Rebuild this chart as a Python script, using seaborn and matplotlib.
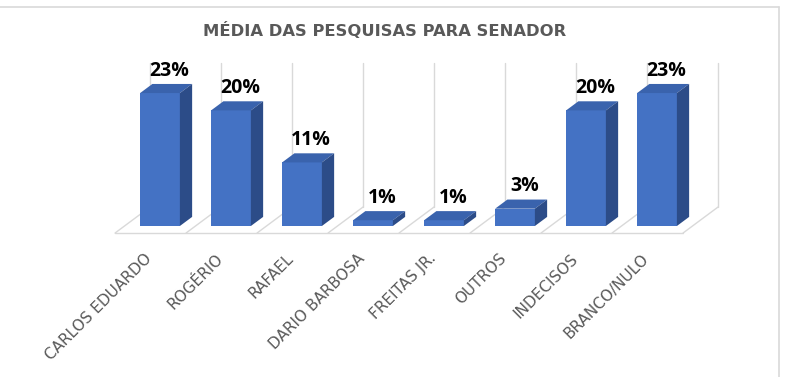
import numpy as np
import matplotlib.pyplot as plt
import seaborn as sns
from matplotlib.patches import Polygon
from matplotlib.lines import Line2D

categories = ['CARLOS EDUARDO', 'ROGÉRIO', 'RAFAEL', 'DARIO BARBOSA',
              'FREITAS JR.', 'OUTROS', 'INDECISOS', 'BRANCO/NULO']
values = [23, 20, 11, 1, 1, 3, 20, 23]
labels = ['23%', '20%', '11%', '1%', '1%', '3%', '20%', '23%']
axis_max = 25

front_c = '#4472C4'
top_c = '#3A63AD'
side_c = '#2C4C88'
grid_c = '#D9D9D9'
text_c = '#595959'

# depth vector (x in category units, y in percent) for the full floor depth
DX, DY = 0.493, 4.5
d_front, d_back, d_bar = -0.27, 0.73, 0.35

sns.set_style('white')
plt.rcParams['font.family'] = ['Open Sans', 'DejaVu Sans']

fig = plt.figure(figsize=(8.06, 3.77), dpi=100)
ax = fig.add_axes([0, 0, 1, 1])

sns.barplot(x=categories, y=values, color=front_c, width=0.56, saturation=1,
            ax=ax, zorder=5, edgecolor='none')

n = len(categories)
hw = 0.28

# back wall gridlines and floor
for k in range(n + 1):
    b = k - 0.5
    ax.plot([b + d_back * DX] * 2, [d_back * DY, axis_max + d_back * DY],
            color=grid_c, lw=1, zorder=1)
    ax.plot([b + d_front * DX, b + d_back * DX], [d_front * DY, d_back * DY],
            color=grid_c, lw=1, zorder=1)
ax.plot([-0.5 + d_front * DX, n - 0.5 + d_front * DX], [d_front * DY] * 2,
        color=grid_c, lw=1, zorder=1)

# 3D faces of the bars
ox, oy = d_bar * DX, d_bar * DY
for i, v in enumerate(values):
    l, r = i - hw, i + hw
    ax.add_patch(Polygon([(l, v), (r, v), (r + ox, v + oy), (l + ox, v + oy)],
                         closed=True, fc=top_c, ec='none', zorder=6))
    ax.add_patch(Polygon([(r, 0), (r + ox, oy), (r + ox, v + oy), (r, v)],
                         closed=True, fc=side_c, ec='none', zorder=6))
    ax.text(i + 0.13, v + oy + 1.4, labels[i], ha='center', va='baseline',
            fontsize=14, fontweight='bold', color='black', zorder=7)
    ax.text(i - 0.15, -5.2, categories[i], rotation=45, ha='right',
            va='center', rotation_mode='anchor', fontsize=11, color=text_c,
            family='DejaVu Sans')

ax.set_xlim(-160 / 71, (806 - 160) / 71)
ax.set_ylim((226 - 377) / 5.78, 226 / 5.78)
ax.axis('off')

fig.text(385 / 806, 1 - 31 / 377, 'MÉDIA DAS PESQUISAS PARA SENADOR',
         ha='center', va='center', fontsize=11.8, fontweight='bold',
         color=text_c, family='DejaVu Sans')

# chart frame
fig.add_artist(Line2D([0, 779 / 806], [1 - 7 / 377] * 2, color=grid_c, lw=1.2))
fig.add_artist(Line2D([779 / 806] * 2, [0, 1 - 7 / 377], color=grid_c, lw=1.2))

fig.savefig('out.png', dpi=100)
